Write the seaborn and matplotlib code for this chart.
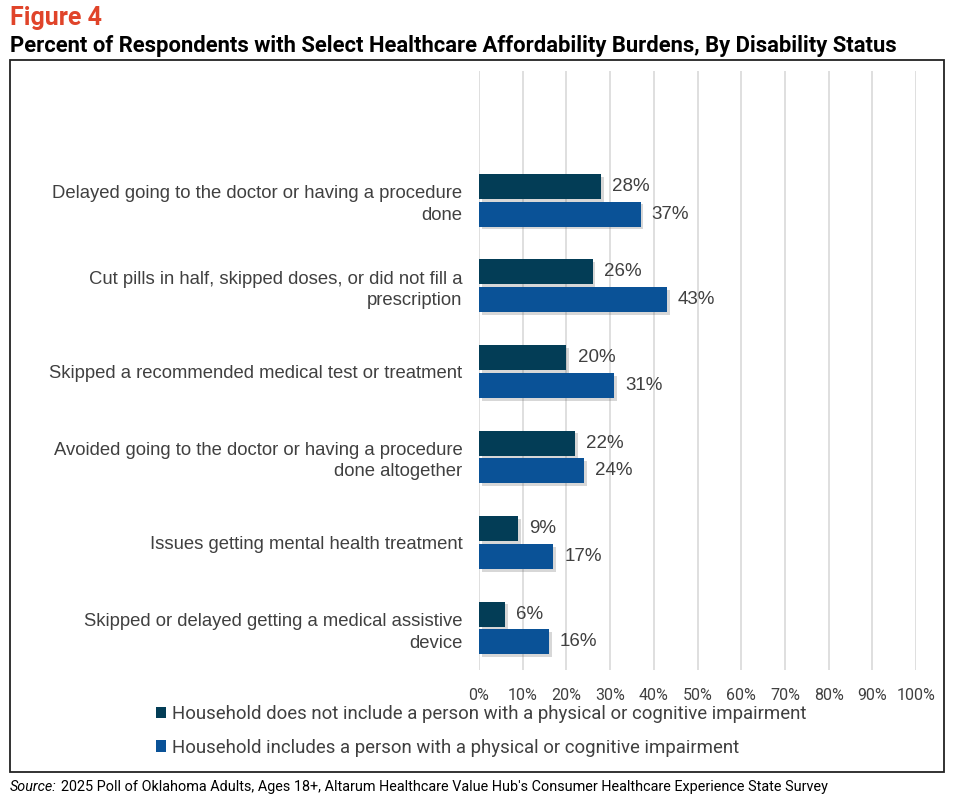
import pandas as pd
import matplotlib.pyplot as plt
import matplotlib.patheffects as pe
from matplotlib.patches import Rectangle, Patch
import seaborn as sns

categories = [
    "Delayed going to the doctor or having a procedure\ndone",
    "Cut pills in half, skipped doses, or did not fill a\nprescription",
    "Skipped a recommended medical test or treatment",
    "Avoided going to the doctor or having a procedure\ndone altogether",
    "Issues getting mental health treatment",
    "Skipped or delayed getting a medical assistive\ndevice",
]
groups = [
    "Household does not include a person with a physical or cognitive impairment",
    "Household includes a person with a physical or cognitive impairment",
]
no_impairment = [28, 26, 20, 22, 9, 6]
with_impairment = [37, 43, 31, 24, 17, 16]
x_ticks = list(range(0, 101, 10))

colors = ["#033D56", "#0A5297"]
text_grey = "#404040"
narrow = ["Roboto", "DejaVu Sans"]

df = pd.DataFrame({
    "category": categories * 2,
    "group": [groups[0]] * 6 + [groups[1]] * 6,
    "value": no_impairment + with_impairment,
})

sns.set_style("white")
plt.rcParams["font.family"] = ["Liberation Sans", "DejaVu Sans"]

fig = plt.figure(figsize=(9.57, 8.02), dpi=100)
ax = fig.add_axes([479 / 957, 1 - 670 / 802, (916 - 479) / 957, (670 - 71) / 802])

sns.barplot(data=df, y="category", x="value", hue="group", order=categories,
            hue_order=groups, palette=colors, width=0.65, gap=0.1,
            orient="h", legend=False, ax=ax, saturation=1, linewidth=0)

for bar in ax.patches:
    bar.set_linewidth(0)
    bar.set_path_effects([pe.SimplePatchShadow(offset=(2, -2), alpha=0.25, shadow_rgbFace="#606060"),
                          pe.Normal()])

for cont in ax.containers:
    ax.bar_label(cont, labels=[f"{v:.0f}%" for v in cont.datavalues], padding=8,
                 fontsize=13.5, color=text_grey)

ax.set_xlim(0, 100)
ax.set_ylim(5.49, -1.51)
ax.set_xticks(x_ticks)
ax.set_xticklabels([f"{t}%" for t in x_ticks], fontsize=11.5, color=text_grey, family=narrow)
ax.tick_params(axis="x", length=0, pad=13)
ax.tick_params(axis="y", length=0, pad=12)
for lab in ax.get_yticklabels():
    lab.set_fontsize(13.3)
    lab.set_color(text_grey)
    lab.set_horizontalalignment("right")
    lab.set_multialignment("right")
    lab.set_linespacing(1.35)
ax.set_xlabel("")
ax.set_ylabel("")
ax.grid(axis="x", color="#D9D9D9", linewidth=1.2)
ax.set_axisbelow(True)
for s in ax.spines.values():
    s.set_visible(False)

# legend
handles = [Patch(facecolor=c, edgecolor="none") for c in colors]
fig.legend(handles, groups, loc="upper left", bbox_to_anchor=(139 / 957, 1 - 688 / 802),
           frameon=False, labelcolor=text_grey, handlelength=0.55,
           handleheight=0.55, handletextpad=0.35, labelspacing=0.85,
           prop={"family": narrow, "size": 13.4})

# outer frame
fig.patches.append(Rectangle((10 / 957, 1 - 772 / 802), 934 / 957, 712 / 802,
                             transform=fig.transFigure, fill=False,
                             edgecolor="#222222", linewidth=1.3))

fig.text(10 / 957, 1 - 18 / 802, "Figure 4", fontsize=18, fontweight="bold",
         color="#E0442A", va="center", family=narrow)
fig.text(10 / 957, 1 - 46 / 802,
         "Percent of Respondents with Select Healthcare Affordability Burdens, By Disability Status",
         fontsize=15.8, fontweight="bold", color="black", va="center", family=narrow)

src1 = fig.text(10 / 957, 1 - 787 / 802, "Source:", fontsize=10.4, fontstyle="italic",
                color="black", va="center", family=narrow)
fig.canvas.draw()
bb = src1.get_window_extent()
fig.text((bb.x1 + 4) / 957, 1 - 787 / 802,
         "2025 Poll of Oklahoma Adults, Ages 18+, Altarum Healthcare Value Hub's Consumer Healthcare Experience State Survey",
         fontsize=10.4, color="black", va="center", family=narrow)

fig.savefig("out.png", dpi=100)
